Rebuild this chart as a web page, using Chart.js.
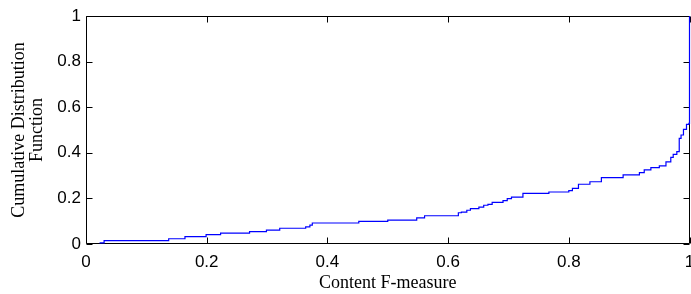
<!DOCTYPE html>
<html>
<head>
<meta charset="utf-8">
<script src="https://cdn.jsdelivr.net/npm/chart.js@4/dist/chart.umd.min.js"></script>
<style>
html,body{margin:0;padding:0;background:#fff;overflow:hidden;}
#c{display:block;}
</style>
</head>
<body>
<canvas id="c" width="691" height="294"></canvas>
<script>
// Content F-measure values (x) where the CDF steps, and the CDF value after each step (y)
const fMeasure = [0.0225, 0.03, 0.137, 0.164, 0.199, 0.223, 0.271, 0.299, 0.321, 0.364, 0.371, 0.375, 0.452, 0.50, 0.548, 0.561, 0.617, 0.622, 0.631, 0.637, 0.651, 0.659, 0.666, 0.673, 0.691, 0.698, 0.705, 0.724, 0.767, 0.800, 0.806, 0.816, 0.835, 0.854, 0.890, 0.917, 0.925, 0.936, 0.950, 0.961, 0.969, 0.973, 0.979, 0.983, 0.986, 0.990, 0.995, 0.999, 1.0];
const cdfValues = [0.005, 0.015, 0.023, 0.032, 0.041, 0.048, 0.054, 0.061, 0.069, 0.075, 0.083, 0.092, 0.099, 0.105, 0.115, 0.124, 0.137, 0.140, 0.148, 0.155, 0.162, 0.170, 0.174, 0.183, 0.190, 0.199, 0.206, 0.222, 0.228, 0.234, 0.244, 0.262, 0.273, 0.291, 0.303, 0.313, 0.325, 0.335, 0.343, 0.360, 0.380, 0.393, 0.405, 0.463, 0.478, 0.503, 0.525, 0.529, 1.0];
const xTickValues = [0, 0.2, 0.4, 0.6, 0.8, 1];
const yTickValues = [0, 0.2, 0.4, 0.6, 0.8, 1];
const xTitle = 'Content F-measure';
const yTitle = ['Cumulative Distribution', 'Function'];

const points = fMeasure.map((x, i) => ({x: x, y: cdfValues[i]}));
const fmt = v => String(Math.round(v * 10) / 10);

const boxPlugin = {
  id: 'matlabBox',
  beforeDatasetsDraw(chart) {
    const {ctx, chartArea: a, scales} = chart;
    const L = Math.round(a.left) + 0.5, R = Math.round(a.right) - 0.5;
    const T = Math.round(a.top) + 0.5, B = Math.round(a.bottom) - 0.5;
    const tl = 6;
    ctx.save();
    ctx.strokeStyle = '#000';
    ctx.lineWidth = 1;
    ctx.beginPath();
    ctx.rect(L, T, R - L, B - T);
    xTickValues.forEach(v => {
      const px = Math.round(scales.x.getPixelForValue(v)) + 0.5;
      ctx.moveTo(px, B); ctx.lineTo(px, B - tl);
      ctx.moveTo(px, T); ctx.lineTo(px, T + tl);
    });
    yTickValues.forEach(v => {
      const py = Math.round(scales.y.getPixelForValue(v)) + 0.5;
      ctx.moveTo(L, py); ctx.lineTo(L + tl, py);
      ctx.moveTo(R, py); ctx.lineTo(R - tl, py);
    });
    ctx.stroke();
    ctx.restore();
  }
};

new Chart(document.getElementById('c'), {
  type: 'line',
  data: {
    datasets: [{
      data: points,
      stepped: 'before',
      borderColor: '#0000ff',
      borderWidth: 1.2,
      pointRadius: 0,
      fill: false,
      tension: 0,
      clip: false
    }]
  },
  options: {
    responsive: false,
    animation: false,
    layout: {padding: {left: 0, right: 1.5, top: 16, bottom: 0}},
    plugins: {legend: {display: false}, tooltip: {enabled: false}},
    scales: {
      x: {
        type: 'linear', min: 0, max: 1,
        afterBuildTicks(s) { s.ticks = xTickValues.map(v => ({value: v})); },
        afterFit(s) { s.height = 50; s.paddingLeft = 0; s.paddingRight = 0; },
        grid: {display: false, drawTicks: false},
        border: {display: false},
        ticks: {color: '#000', padding: 8, maxRotation: 0, callback: fmt, font: {family: 'Liberation Sans', size: 17}},
        title: {display: true, text: xTitle, color: '#000', padding: {top: 0, bottom: 1},
                font: {family: 'Liberation Serif', size: 18, lineHeight: '18.5px'}}
      },
      y: {
        type: 'linear', min: 0, max: 1,
        afterBuildTicks(s) { s.ticks = yTickValues.map(v => ({value: v})); },
        afterFit(s) { s.width = 86; s.paddingTop = 0; s.paddingBottom = 0; },
        grid: {display: false, drawTicks: false},
        border: {display: false},
        ticks: {color: '#000', padding: 5, callback: fmt, font: {family: 'Liberation Sans', size: 17}},
        title: {display: true, text: yTitle, color: '#000', padding: {top: 10, bottom: 0},
                font: {family: 'Liberation Serif', size: 18, lineHeight: '18.5px'}}
      }
    }
  },
  plugins: [boxPlugin]
});
</script>
</body>
</html>
